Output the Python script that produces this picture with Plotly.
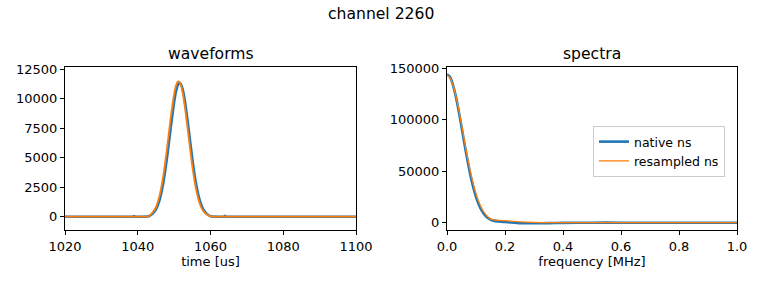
import plotly.graph_objects as go

# ---------------- data ----------------
wave_time = [1020, 1030, 1038, 1038.7, 1039, 1039.3, 1040, 1043, 1044, 1045, 1046, 1047, 1048,
             1049, 1050, 1050.5, 1051, 1051.5, 1052, 1052.5, 1053, 1054, 1055, 1056, 1057,
             1058, 1059, 1060, 1063, 1063.7, 1064, 1064.3, 1065, 1080, 1100]
wave_native = [0, 0, 0, 0, 60, 0, 0, 30, 240, 625, 1425, 2830, 4900,
               7395, 9730, 10600, 11155, 11350, 11155, 10600, 9730, 7395, 4900, 2830, 1425,
               625, 240, 30, 0, 0, 70, 0, 0, 0, 0]
wave_resampled = [0, 0, 0, 0, 20, 0, 0, 40, 330, 820, 1800, 3430, 5700,
                  8250, 10420, 11120, 11470, 11430, 11010, 10240, 9210, 6720, 4270, 2370, 1145,
                  480, 177, 30, 0, 0, 40, 0, 0, 0, 0]

freq = [0.0, 0.01, 0.02, 0.03, 0.04, 0.05, 0.06, 0.07, 0.08, 0.09, 0.10, 0.11, 0.12,
        0.13, 0.14, 0.15, 0.16, 0.18, 0.20, 0.22, 0.25, 0.30, 0.35, 0.40, 0.50, 0.60,
        0.70, 0.80, 0.90, 1.0]
spec_native = [144000, 141500, 134200, 123000, 108900, 93000, 76800, 61200, 47100, 35000,
               25100, 17400, 11600, 7500, 4700, 3000, 2000, 1200, 700, 200, -400, -600,
               -400, -200, 0, 0, 0, 0, 0, 0]
spec_resampled = [143000, 140700, 134000, 123500, 110200, 95300, 79700, 64600, 50600, 38400,
                  28200, 20100, 13800, 9200, 5900, 3700, 2800, 2200, 1900, 1500, 800, 200,
                  0, 0, 0, 0, 0, 0, 0, 0]

wave_xticks = [1020, 1040, 1060, 1080, 1100]
wave_yticks = [0, 2500, 5000, 7500, 10000, 12500]
spec_xticks = [0.0, 0.2, 0.4, 0.6, 0.8, 1.0]
spec_yticks = [0, 50000, 100000, 150000]

BLUE = "#1f77b4"
ORANGE = "#ff7f0e"
FONT = "DejaVu Sans"
W, H = 762, 286

fig = go.Figure()
fig.add_trace(go.Scatter(x=wave_time, y=wave_native, mode="lines", line=dict(color=BLUE, width=2.6, shape="spline", smoothing=0.6),
                         name="native ns", showlegend=False, xaxis="x", yaxis="y"))
fig.add_trace(go.Scatter(x=wave_time, y=wave_resampled, mode="lines", line=dict(color=ORANGE, width=1.8, shape="spline", smoothing=0.6),
                         name="resampled ns", showlegend=False, xaxis="x", yaxis="y"))
fig.add_trace(go.Scatter(x=freq, y=spec_native, mode="lines", line=dict(color=BLUE, width=2.6, shape="spline", smoothing=0.6),
                         name="native ns", xaxis="x2", yaxis="y2"))
fig.add_trace(go.Scatter(x=freq, y=spec_resampled, mode="lines", line=dict(color=ORANGE, width=1.3, shape="spline", smoothing=0.6),
                         name="resampled ns", xaxis="x2", yaxis="y2"))

ydom = [1 - 230 / H, 1 - 67 / H]
axis_common = dict(showline=True, linecolor="black", linewidth=1, mirror=True, ticks="outside",
                   ticklen=4, tickwidth=1, tickcolor="black", showgrid=False, zeroline=False,
                   automargin=False,
                   tickfont=dict(family=FONT, size=13, color="black"))

fig.update_layout(
    width=W, height=H,
    margin=dict(l=0, r=0, t=0, b=0),
    paper_bgcolor="white", plot_bgcolor="white",
    font=dict(family=FONT, size=13, color="black"),
    xaxis=dict(domain=[65 / W, 356 / W], range=[1020, 1100], tickvals=wave_xticks, tickformat="d",
               title=dict(text="time [us]", font=dict(family=FONT, size=13), standoff=4),
               anchor="y", **axis_common),
    yaxis=dict(domain=ydom, range=[-1130, 12700], tickvals=wave_yticks, tickformat="d",
               anchor="x", **axis_common),
    xaxis2=dict(domain=[447 / W, 737 / W], range=[0, 1.0], tickvals=spec_xticks, tickformat=".1f",
                title=dict(text="frequency [MHz]", font=dict(family=FONT, size=13), standoff=4),
                anchor="y2", **axis_common),
    yaxis2=dict(domain=ydom, range=[-7100, 151000], tickvals=spec_yticks, tickformat="d",
                anchor="x2", **axis_common),
    legend=dict(x=593 / W, y=1 - 126 / H, xanchor="left", yanchor="top",
                bordercolor="#cccccc", borderwidth=1, bgcolor="white",
                font=dict(family=FONT, size=12.5), itemwidth=30, tracegroupgap=0),
    showlegend=True,
    annotations=[
        dict(text="channel 2260", x=0.5, y=1 - 14 / H, xref="paper", yref="paper", showarrow=False,
             xanchor="center", yanchor="middle", font=dict(family=FONT, size=15.6)),
        dict(text="waveforms", x=(65 + 356) / 2 / W, y=1 - 54 / H, xref="paper", yref="paper", showarrow=False,
             xanchor="center", yanchor="middle", font=dict(family=FONT, size=15.6)),
        dict(text="spectra", x=(447 + 737) / 2 / W, y=1 - 54 / H, xref="paper", yref="paper", showarrow=False,
             xanchor="center", yanchor="middle", font=dict(family=FONT, size=15.6)),
    ],
)

fig.write_html("out.html", config={"displayModeBar": False},
               post_script="document.body.style.margin='0';document.body.style.padding='0';window.dispatchEvent(new Event('resize'));")
